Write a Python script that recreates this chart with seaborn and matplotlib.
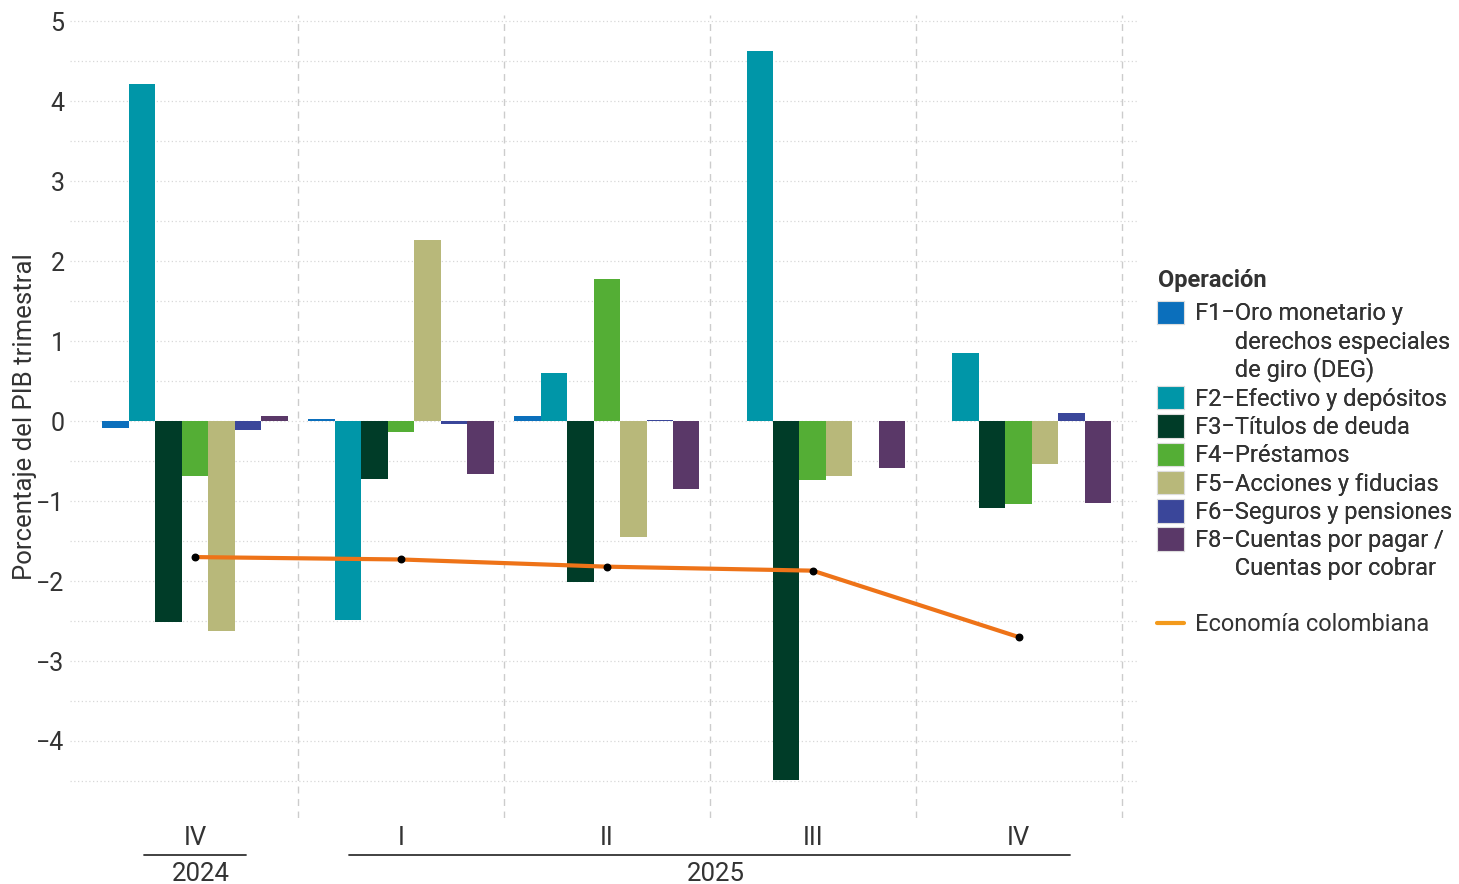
import numpy as np
import pandas as pd
import seaborn as sns
import matplotlib.pyplot as plt
from matplotlib.patches import Patch
from matplotlib.lines import Line2D
import matplotlib.transforms as mtransforms

quarters = ['IV', 'I', 'II', 'III', 'IV']
years = ['2024', '2025']
year_span = [(0, 0), (1, 4)]

series = ['F1', 'F2', 'F3', 'F4', 'F5', 'F6', 'F8']
# each legend entry as list of lines (continuation lines get an empty handle)
labels = [
    ['F1\u2212Oro monetario y', 'derechos especiales', 'de giro (DEG)'],
    ['F2\u2212Efectivo y depósitos'],
    ['F3\u2212Títulos de deuda'],
    ['F4\u2212Préstamos'],
    ['F5\u2212Acciones y fiducias'],
    ['F6\u2212Seguros y pensiones'],
    ['F8\u2212Cuentas por pagar /', 'Cuentas por cobrar'],
]
colors = ['#0B6FBC', '#0096A8', '#003C28', '#54AE35', '#B8B87A', '#3A469A', '#5A3868']

f1 = [-0.08, 0.03, 0.06, 0.0, 0.0]
f2 = [4.22, -2.49, 0.60, 4.63, 0.85]
f3 = [-2.51, -0.72, -2.01, -4.49, -1.09]
f4 = [-0.69, -0.14, 1.78, -0.74, -1.03]
f5 = [-2.62, 2.26, -1.45, -0.68, -0.54]
f6 = [-0.11, -0.03, 0.02, 0.0, 0.10]
f8 = [0.07, -0.66, -0.85, -0.59, -1.02]
economia = [-1.70, -1.73, -1.82, -1.87, -2.70]

vals = [f1, f2, f3, f4, f5, f6, f8]
rows = []
for s, v in zip(series, vals):
    for i, q in enumerate(quarters):
        rows.append({'pos': i, 'serie': s, 'valor': v[i]})
df = pd.DataFrame(rows)

sns.set_style('white')
plt.rcParams['font.family'] = ['Roboto', 'DejaVu Sans']
txt = '#333333'

fig = plt.figure(figsize=(14.59, 8.84), dpi=100)
ax = fig.add_axes([0.048, 0.075, 0.733, 0.908])

sns.barplot(data=df, x='pos', y='valor', hue='serie', hue_order=series,
            palette=colors, width=0.9, dodge=True, ax=ax, legend=False,
            linewidth=0, saturation=1)

x = np.arange(len(quarters))
sns.lineplot(x=x, y=economia, color='#EE7318', linewidth=3, ax=ax)
ax.scatter(x, economia, color='black', s=22, zorder=5)

ax.set_xlim(-0.607, 4.587)
ax.set_ylim(-4.96, 5.08)
ax.set_yticks(np.arange(-4, 6, 1))
ax.set_yticklabels([f'{t}' if t >= 0 else f'\u2212{-t}' for t in range(-4, 6)])
ax.set_xticks(x)
ax.set_xticklabels(quarters, fontsize=18.5, color=txt)

for yv in np.arange(-4.5, 5.01, 0.5):
    ax.axhline(yv, color='#d8d8d8', linestyle=(0, (1, 2)), linewidth=0.9, zorder=0)
for xv in np.arange(0.5, 4.6, 1):
    ax.axvline(xv, color='#cccccc', linestyle=(0, (5, 4)), linewidth=1, zorder=0)

for sp in ax.spines.values():
    sp.set_visible(False)
ax.tick_params(axis='y', labelsize=18, colors=txt, length=4, color='#444444', pad=0, width=0.8)
ax.tick_params(axis='x', length=4, color='#aaaaaa', pad=2)
ax.set_xlabel('')
ax.set_ylabel('Porcentaje del PIB trimestral', fontsize=18.5, color=txt, labelpad=-0.5)

trans = mtransforms.blended_transform_factory(ax.transData, ax.transAxes)
for yr, (a, b) in zip(years, year_span):
    ax.plot([a - 0.25, b + 0.25], [-0.046, -0.046], color=txt, lw=1.3,
            transform=trans, clip_on=False)
    ax.text((a + b) / 2 + 0.03, -0.07, yr, transform=trans, ha='center', va='center',
            fontsize=18.5, color=txt)

handles, texts = [], []
blank = Patch(facecolor='none', edgecolor='none')
indent = '\u2007' * 3
for c, lines in zip(colors, labels):
    handles.append(Patch(facecolor=c, edgecolor='#dddddd', linewidth=0.8))
    texts.append(lines[0])
    for extra in lines[1:]:
        handles.append(blank)
        texts.append(indent + extra)

fig.text(1158 / 1459, 1 - 280 / 884, 'Operación', fontsize=17, weight='bold',
         color=txt, ha='left', va='center')

leg1 = fig.legend(handles, texts, loc='upper left',
                  bbox_to_anchor=(0.7865, 0.6705), frameon=False, fontsize=17,
                  handlelength=1.15, handleheight=1.15, handletextpad=0.45,
                  labelspacing=0.15, borderaxespad=0)
for t in leg1.get_texts():
    t.set_color(txt)
fig.add_artist(leg1)

lh = [Line2D([0], [0], color='#F39A1C', lw=3)]
leg2 = fig.legend(lh, ['Economía colombiana'], loc='upper left',
                  bbox_to_anchor=(0.7865, 0.3175), frameon=False, fontsize=17,
                  handlelength=1.15, handletextpad=0.45, borderaxespad=0)
for t in leg2.get_texts():
    t.set_color(txt)

fig.savefig('out.png', dpi=100)
